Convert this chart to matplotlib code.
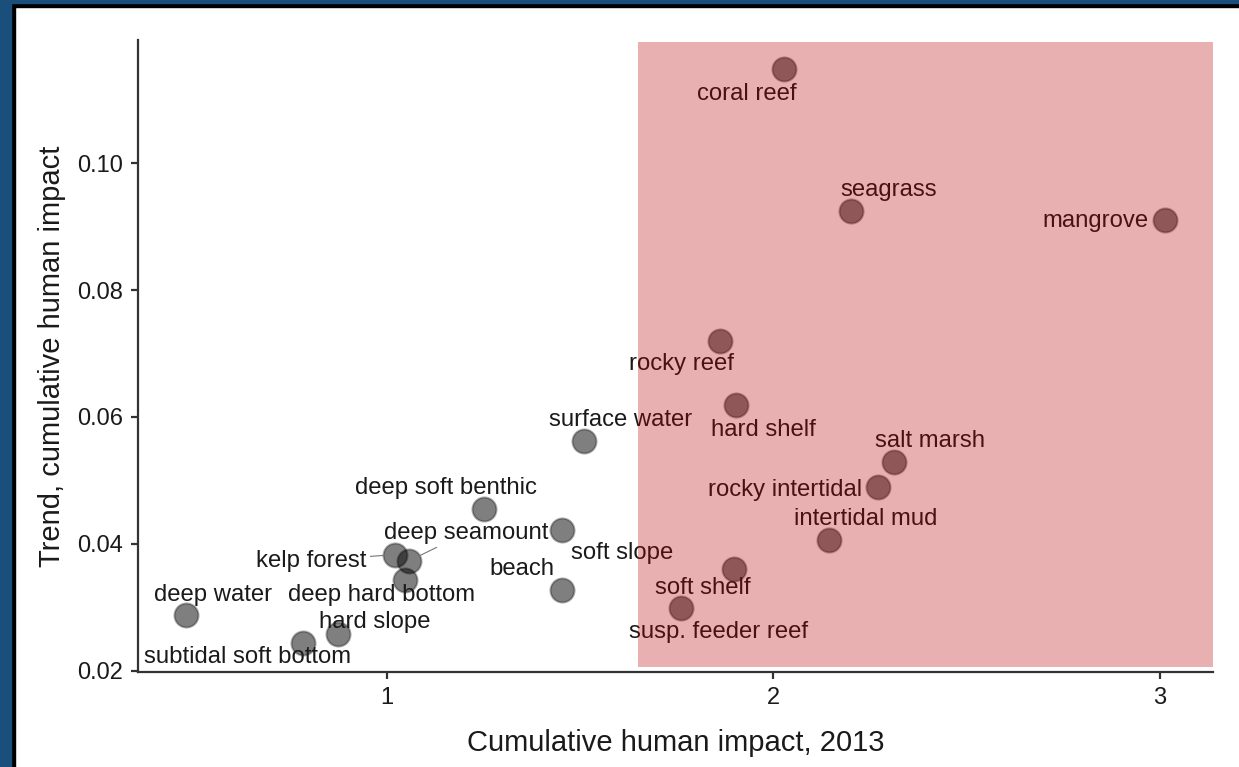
import matplotlib.pyplot as plt
from matplotlib.patches import Rectangle

plt.rcParams['font.family'] = ['Liberation Sans', 'DejaVu Sans']

habitats = ['coral reef', 'seagrass', 'mangrove', 'rocky reef', 'hard shelf',
            'surface water', 'salt marsh', 'rocky intertidal', 'deep soft benthic',
            'soft slope', 'intertidal mud', 'kelp forest', 'deep seamount',
            'deep hard bottom', 'soft shelf', 'beach', 'susp. feeder reef',
            'deep water', 'hard slope', 'subtidal soft bottom']
impact_2013 = [2.027, 2.200, 3.013, 1.862, 1.903,
               1.510, 2.312, 2.270, 1.251,
               1.453, 2.144, 1.021, 1.057,
               1.047, 1.898, 1.453, 1.761,
               0.480, 0.873, 0.783]
trend = [0.1148, 0.0924, 0.0910, 0.0720, 0.0619,
         0.0562, 0.0529, 0.0490, 0.0455,
         0.0422, 0.0406, 0.0383, 0.0373,
         0.0343, 0.0361, 0.0328, 0.0299,
         0.0288, 0.0258, 0.0244]

# label offsets (pixels) from each point, repel-style
offsets = [(-37, -25), (38, 21), (-70, -1), (-39, -23), (27, -25),
           (37, 21), (36, 21), (-93, -3), (-38, 21),
           (60, -23), (37, 21), (-84, -6), (57, 28),
           (-24, -15), (-31, -19), (-40, 21), (37, -24),
           (27, 20), (37, 12), (-55, -14)]
leaders = ['kelp forest', 'deep seamount']

fig = plt.figure(figsize=(12.39, 7.67), dpi=100)

# dark blue frame on the left/top edges
fig.patches.append(Rectangle((0, 0), 15 / 1239, 1, transform=fig.transFigure,
                             color='black', zorder=0))
fig.patches.append(Rectangle((0, 0), 11 / 1239, 1, transform=fig.transFigure,
                             color='#1a4f7b', zorder=1))
fig.patches.append(Rectangle((0, 1 - 7 / 767), 1, 7 / 767, transform=fig.transFigure,
                             color='black', zorder=0))
fig.patches.append(Rectangle((0, 1 - 3 / 767), 1, 3 / 767, transform=fig.transFigure,
                             color='#1a4f7b', zorder=1))

ax = fig.add_axes([138 / 1239, 95 / 767, 1075 / 1239, 632 / 767])

ax.scatter(impact_2013, trend, s=300, facecolor=(0, 0, 0, 0.5),
           edgecolor=(0, 0, 0, 0.3), linewidth=1.5, zorder=3)

for name, x, y, (dx, dy) in zip(habitats, impact_2013, trend, offsets):
    if name in leaders:
        ax.annotate(name, (x, y), xytext=(dx, dy), textcoords='offset pixels',
                    ha='center', va='center', fontsize=17.2, color='#1a1a1a',
                    zorder=4,
                    arrowprops=dict(arrowstyle='-', color='#777777', lw=0.8,
                                    shrinkA=1, shrinkB=8))
    else:
        ax.annotate(name, (x, y), xytext=(dx, dy), textcoords='offset pixels',
                    ha='center', va='center', fontsize=17.2, color='#1a1a1a',
                    zorder=4)

ax.set_xlim(0.356, 3.137)
ax.set_ylim(0.0198, 0.1194)

# highlight region drawn over the points
ax.axvspan(1.65, 3.137, ymin=0.008, ymax=0.997, facecolor=(0.71, 0, 0),
           alpha=0.31, linewidth=0, zorder=5)

ax.set_xticks([1, 2, 3])
ax.set_xticklabels(['1', '2', '3'])
ax.set_yticks([0.02, 0.04, 0.06, 0.08, 0.10])
ax.set_yticklabels(['0.02', '0.04', '0.06', '0.08', '0.10'])

for side in ['top', 'right']:
    ax.spines[side].set_visible(False)
for side in ['left', 'bottom']:
    ax.spines[side].set_linewidth(1.6)
    ax.spines[side].set_color('#333333')
ax.tick_params(length=5, width=1.6, color='#333333', labelsize=17,
               labelcolor='#1a1a1a', pad=6)

ax.set_xlabel('Cumulative human impact, 2013', fontsize=21, color='#1a1a1a',
              labelpad=14)
ax.set_ylabel('Trend, cumulative human impact', fontsize=21, color='#1a1a1a',
              labelpad=8)

fig.savefig('out.png', dpi=100)
